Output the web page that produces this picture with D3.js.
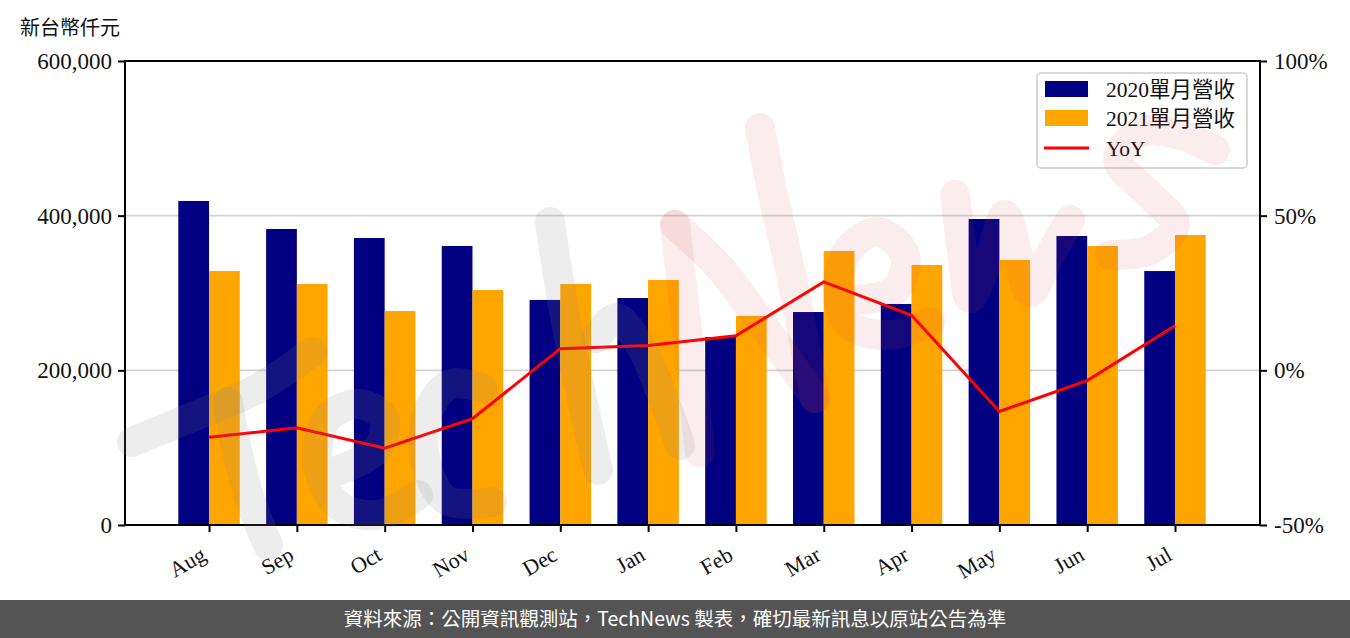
<!DOCTYPE html>
<html><head><meta charset="utf-8">
<script src="https://cdn.jsdelivr.net/npm/d3@7"></script>
<style>
body{margin:0;background:#fff;}
svg{display:block;}
</style></head>
<body>
<svg id="chart" width="1350" height="638"></svg>
<script>
const months = ["Aug","Sep","Oct","Nov","Dec","Jan","Feb","Mar","Apr","May","Jun","Jul"];
const rev2020 = [419000,382800,371100,360800,291000,293500,243100,275400,285800,395700,373700,328400];
const rev2021 = [328400,311600,276700,303900,311600,316800,270300,354300,336200,342700,360800,375000];
const yoy = [-21.6,-18.6,-25.2,-15.6,7.0,8.0,11.2,28.6,17.8,-13.3,-3.3,14.4];
const leftTicks = [0,200000,400000,600000];
const rightTicks = [-50,0,50,100];
const seriesNames = ["2020單月營收","2021單月營收","YoY"];
const colors = {a:"#000080", b:"#FFA500", line:"#FF0000"};

const svg = d3.select("#chart");
const L = 125, R = 1260, T = 61, B = 525;
const serif = "'Liberation Serif','DejaVu Serif','Noto Sans CJK TC',serif";
const cjk = "'Liberation Serif','Noto Sans CJK TC',sans-serif";

const x = d3.scaleLinear().domain([-0.957, 11.968]).range([L, R]);
const y = d3.scaleLinear().domain([0, 600000]).range([B, T]);
const y2 = d3.scaleLinear().domain([-50, 100]).range([B, T]);
const bw = x(0.35) - x(0);

// grid
svg.append("g").selectAll("line").data([200000,400000]).join("line")
  .attr("x1", L).attr("x2", R).attr("y1", d=>y(d)).attr("y2", d=>y(d))
  .attr("stroke", "#d3d3d3").attr("stroke-width", 1.6);

// bars
svg.append("g").selectAll("rect").data(rev2020).join("rect")
  .attr("x", (d,i)=>x(i)-bw).attr("width", bw)
  .attr("y", d=>y(d)).attr("height", d=>B-y(d)).attr("fill", colors.a);
svg.append("g").selectAll("rect").data(rev2021).join("rect")
  .attr("x", (d,i)=>x(i)).attr("width", bw)
  .attr("y", d=>y(d)).attr("height", d=>B-y(d)).attr("fill", colors.b);

// line
svg.append("path").datum(yoy)
  .attr("d", d3.line().x((d,i)=>x(i)).y(d=>y2(d)))
  .attr("fill","none").attr("stroke", colors.line).attr("stroke-width", 3);

// axes
const fmt = d3.format(",");
const gl = svg.append("g").attr("transform", `translate(${L},0)`)
  .call(d3.axisLeft(y).tickValues(leftTicks).tickFormat(fmt).tickSize(7).tickPadding(6));
const gr = svg.append("g").attr("transform", `translate(${R},0)`)
  .call(d3.axisRight(y2).tickValues(rightTicks).tickFormat(d=>d+"%").tickSize(7).tickPadding(7));
const gb = svg.append("g").attr("transform", `translate(0,${B})`)
  .call(d3.axisBottom(x).tickValues(d3.range(months.length)).tickFormat(i=>months[i]).tickSize(7));
[gl,gr,gb].forEach(g=>{
  g.select(".domain").remove();
  g.selectAll(".tick line").attr("stroke","#000").attr("stroke-width",2);
  g.selectAll("text").attr("font-family", serif).attr("font-size", 23).attr("fill","#111");
});
gb.selectAll("text").attr("font-size",22).attr("text-anchor","end").attr("y",0).attr("dy",0)
  .attr("transform","translate(-2,34) rotate(-30)");

// spines
svg.append("rect").attr("x",L).attr("y",T).attr("width",R-L).attr("height",B-T)
  .attr("fill","none").attr("stroke","#000").attr("stroke-width",2);

// y label
svg.append("text").attr("x",20).attr("y",35).text("新台幣仟元")
  .attr("font-family",cjk).attr("font-size",20).attr("fill","#111");

// legend
const lg = svg.append("g");
lg.append("rect").attr("x",1037).attr("y",73).attr("width",210).attr("height",95)
  .attr("rx",4).attr("fill","#fff").attr("fill-opacity",0.8).attr("stroke","#ccc").attr("stroke-width",1.5);
const rowsY = [89,118,148];
lg.append("rect").attr("x",1045).attr("y",rowsY[0]-8).attr("width",43).attr("height",16).attr("fill",colors.a);
lg.append("rect").attr("x",1045).attr("y",rowsY[1]-8).attr("width",43).attr("height",16).attr("fill",colors.b);
lg.append("line").attr("x1",1044).attr("x2",1089).attr("y1",rowsY[2]).attr("y2",rowsY[2])
  .attr("stroke",colors.line).attr("stroke-width",3);
lg.selectAll("text.leg").data(seriesNames).join("text").attr("class","leg")
  .attr("x",1106).attr("y",(d,i)=>rowsY[i]).attr("dy","0.36em").text(d=>d)
  .attr("font-family",cjk).attr("font-size",21.5).attr("fill","#111");

// watermark (brush strokes approximating the "TechNews" logo)
const brush = d3.line().curve(d3.curveCatmullRom);
const wmGray = [
  [[132,442],[190,418],[255,390],[312,352]],
  [[228,402],[238,455],[252,505],[268,545]],
  [[340,470],[378,448],[384,418],[358,404],[326,420],[318,465],[338,505],[378,515],[418,495]],
  [[482,388],[450,384],[428,412],[425,458],[446,500],[492,502]],
  [[550,222],[562,300],[580,390],[598,470]],
  [[596,338],[616,318],[640,345],[662,395],[680,445]]
];
const wmPink = [
  [[700,452],[688,340],[675,225]],
  [[675,225],[720,268],[770,335],[815,398]],
  [[815,398],[790,270],[772,190],[760,128]],
  [[858,300],[895,290],[905,255],[878,232],[848,250],[838,290],[850,325],[890,335],[930,322]],
  [[955,195],[962,250],[970,298],[990,255],[1005,215],[1018,255],[1030,292],[1050,255],[1070,220]],
  [[1215,150],[1180,135],[1140,132],[1118,160],[1150,195],[1175,225],[1150,250],[1110,255]]
];
const wm = svg.append("g").attr("pointer-events","none");
wm.selectAll("path.g").data(wmGray).join("path").attr("class","g").attr("d", brush)
  .attr("fill","none").attr("stroke","#888").attr("stroke-opacity",0.15)
  .attr("stroke-width",30).attr("stroke-linecap","round").attr("stroke-linejoin","round");
wm.selectAll("path.p").data(wmPink).join("path").attr("class","p").attr("d", brush)
  .attr("fill","none").attr("stroke","#d9404f").attr("stroke-opacity",0.1)
  .attr("stroke-width",30).attr("stroke-linecap","round").attr("stroke-linejoin","round");

// footer
svg.append("rect").attr("x",0).attr("y",600).attr("width",1350).attr("height",38).attr("fill","#545454");
svg.append("text").attr("x",675).attr("y",619).attr("dy","0.36em").attr("text-anchor","middle")
  .text("資料來源：公開資訊觀測站，TechNews 製表，確切最新訊息以原站公告為準")
  .attr("font-family","'Noto Sans CJK TC',sans-serif").attr("font-size",19.5).attr("fill","#fff");
</script>
</body></html>
